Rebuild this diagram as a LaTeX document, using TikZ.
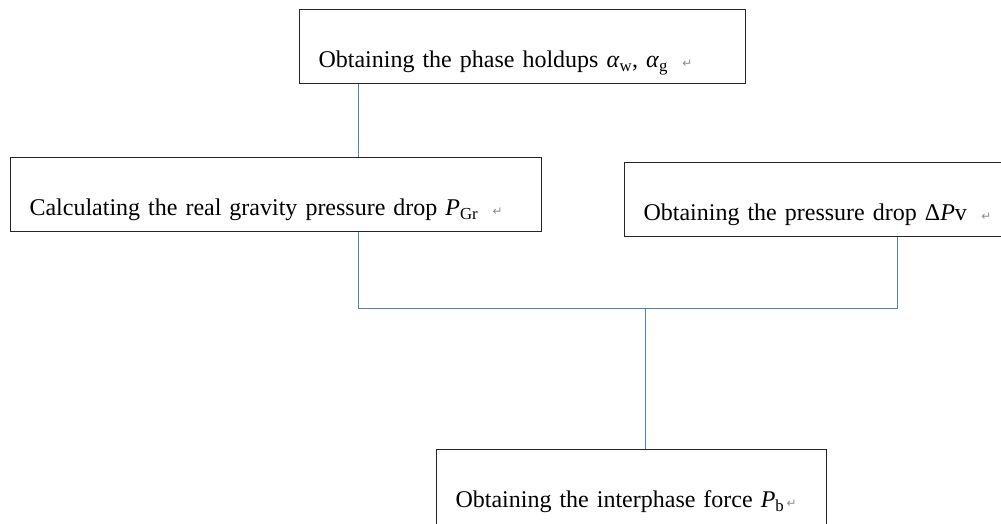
\documentclass[tikz,border=0pt]{standalone}
\usepackage{fontspec}
\setmainfont{Liberation Serif}[WordSpace={0.8,0.5,0.5}]
\newfontfamily\arrowfont{DejaVu Sans}
\usetikzlibrary{positioning, calc}
\definecolor{wordblue}{RGB}{79,129,189}
\newcommand{\parmark}[1][0.6em]{\rlap{\hspace{#1}{\arrowfont\fontsize{12pt}{12pt}\selectfont\color{black!45}↵}}}
\tikzset{
  stepbox/.style={draw=black!85, line width=1.1pt, anchor=north west, align=left,
    inner xsep=19pt, inner ysep=0pt, text height=58pt, text depth=16pt,
    font=\fontsize{24pt}{28pt}\selectfont},
  link/.style={draw=wordblue, line width=0.9pt}
}
\begin{document}
\begin{tikzpicture}[x=1pt, y=-1pt]
\useasboundingbox (0,0) rectangle (1001,524);
\node[stepbox, text width=408pt] (hold) at (299,9) {Obtaining the phase holdups \textit{α}\textsubscript{w}, \textit{α}\textsubscript{g}\parmark};
\node[stepbox, text width=493pt] (grav) at (10,157) {Calculating the real gravity pressure drop \textit{P}\textsubscript{Gr}\parmark};
\node[stepbox, text width=362pt] (drop) at (624,162) {Obtaining the pressure drop Δ\textit{P}v\parmark};
\node[stepbox, text width=352pt, text depth=30pt] (force) at (436,449) {Obtaining the interphase force \textit{P}\textsubscript{b}\parmark[0.1em]};

\coordinate (jl) at (358,308);
\coordinate (jr) at (897,308);
\coordinate (jm) at (645,308);

\draw[link] (hold.south -| jl) -- (grav.north -| jl);
\draw[link] (grav.south -| jl) -- (jl) -- (jr) -- (drop.south -| jr);
\draw[link] (jm) -- (force.north -| jm);
\end{tikzpicture}
\end{document}
